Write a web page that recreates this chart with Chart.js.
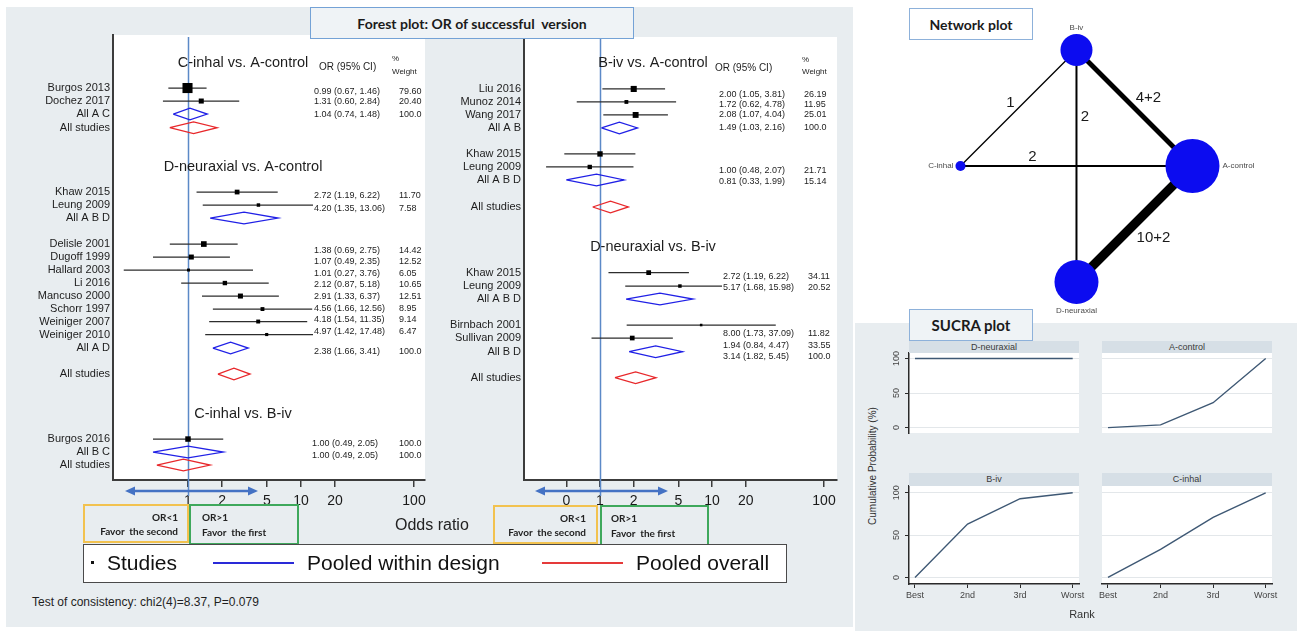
<!DOCTYPE html>
<html>
<head>
<meta charset="utf-8">
<title>Network meta-analysis: forest plot, network plot and SUCRA plot</title>
<script src="https://cdn.jsdelivr.net/npm/chart.js"></script>
<style>
  html, body { margin: 0; padding: 0; }
  body { width: 1297px; height: 631px; position: relative; overflow: hidden; background: #fff;
         font-family: "Liberation Sans", Arial, sans-serif; color: #1a1a1a; }
  .abs { position: absolute; }
  canvas { position: absolute; }
  .bg { position: absolute; background: #e8edf0; }
  .titlebox { position: absolute; box-sizing: border-box; border: 1.5px solid #74a2d6; background: #eff3f6;
              font-family: Lato, "Open Sans", sans-serif; font-weight: 700; font-size: 14px; color: #1b1b1b;
              display: flex; align-items: center; justify-content: center; white-space: pre; }
  .favor { position: absolute; box-sizing: border-box; border: 2px solid; font-family: Lato, sans-serif;
           font-weight: 700; font-size: 10px; line-height: 12px; color: #222; white-space: pre; }
  .favor span { position: absolute; }
  .leg { position: absolute; top: 552px; font-size: 21px; line-height: 22px; color: #111; white-space: pre; }
  .strip { position: absolute; height: 12px; background: #d6dfe6; font-size: 9px; line-height: 12px;
           text-align: center; color: #3a3a3a; }
</style>
</head>
<body>
<div class="bg" style="left:6px;top:7px;width:847px;height:620px;"></div>
<div class="bg" style="left:855px;top:323px;width:442px;height:308px;"></div>

<canvas id="forestLeft" width="440" height="520" style="left:0;top:0;"></canvas>
<canvas id="forestRight" width="420" height="520" style="left:430px;top:0;"></canvas>
<canvas id="network" width="440" height="323" style="left:857px;top:0;"></canvas>
<canvas id="sucra1" width="215" height="116" style="left:880px;top:345px;"></canvas>
<canvas id="sucra2" width="200" height="116" style="left:1090px;top:345px;"></canvas>
<canvas id="sucra3" width="215" height="126" style="left:880px;top:478px;"></canvas>
<canvas id="sucra4" width="200" height="126" style="left:1090px;top:478px;"></canvas>

<div class="titlebox" style="left:310px;top:7px;width:324px;height:32px;">Forest plot: OR of successful  version</div>
<div class="titlebox" style="left:909px;top:8px;width:124px;height:32px;background:#fff;border-color:#8db1da;">Network plot</div>
<div class="titlebox" style="left:909px;top:309px;width:124px;height:32px;font-size:15px;border-color:#8db1da;">SUCRA plot</div>

<div class="favor" style="left:83px;top:504px;width:106px;height:39px;border-color:#f2c24f;">
  <span style="right:9px;top:5px;">OR&lt;1</span><span style="right:9px;top:19px;">Favor  the second</span></div>
<div class="favor" style="left:189px;top:504px;width:110px;height:41px;border-color:#3ea85c;">
  <span style="left:11px;top:5px;">OR&gt;1</span><span style="left:11px;top:20px;">Favor  the first</span></div>
<div class="favor" style="left:493px;top:505px;width:105px;height:39px;border-color:#f2c24f;">
  <span style="right:10px;top:5px;">OR&lt;1</span><span style="right:10px;top:19px;">Favor  the second</span></div>
<div class="favor" style="left:600px;top:505px;width:109px;height:41px;border-color:#3ea85c;">
  <span style="left:9px;top:5px;">OR&gt;1</span><span style="left:9px;top:20px;">Favor  the first</span></div>

<div class="abs" style="left:395px;top:516px;font-size:16px;line-height:18px;color:#222;">Odds ratio</div>

<div class="abs" style="left:83px;top:544px;width:704px;height:39px;box-sizing:border-box;border:1.5px solid #4a4a4a;background:#fff;"></div>
<div class="abs" style="left:91px;top:561px;width:3px;height:3px;background:#111;"></div>
<div class="leg" style="left:107px;">Studies</div>
<div class="abs" style="left:213px;top:562px;width:81px;height:2px;background:#2a2ad8;"></div>
<div class="leg" style="left:307px;">Pooled within design</div>
<div class="abs" style="left:542px;top:562px;width:81px;height:2px;background:#e53a3a;"></div>
<div class="leg" style="left:636px;">Pooled overall</div>

<div class="abs" style="left:32px;top:595px;font-size:12px;line-height:14px;color:#1f1f1f;">Test of consistency: chi2(4)=8.37, P=0.079</div>

<div id="strips"></div>
<div class="abs" style="left:793px;top:460px;width:160px;height:12px;font-size:10px;line-height:12px;text-align:center;color:#333;transform:rotate(-90deg);">Cumulative Probability (%)</div>
<div class="abs" style="left:1057px;top:607px;width:50px;font-size:11px;line-height:14px;text-align:center;color:#333;">Rank</div>

<script>
// ================= Forest plot: left column =================
const leftComparisons = ['C-inhal vs. A-control', 'D-neuraxial vs. A-control', 'C-inhal vs. B-iv'];

const leftStudies = ['Burgos 2013', 'Dochez 2017', 'Khaw 2015', 'Leung 2009', 'Delisle 2001', 'Dugoff 1999',
                     'Hallard 2003', 'Li 2016', 'Mancuso 2000', 'Schorr 1997', 'Weiniger 2007', 'Weiniger 2010', 'Burgos 2016'];
const leftOR     = [0.99, 1.31, 2.72, 4.20, 1.38, 1.07, 1.01, 2.12, 2.91, 4.56, 4.18, 4.97, 1.00];
const leftLow    = [0.67, 0.60, 1.19, 1.35, 0.69, 0.49, 0.27, 0.87, 1.33, 1.66, 1.54, 1.42, 0.49];
const leftHigh   = [1.46, 2.84, 6.22, 13.06, 2.75, 2.35, 3.76, 5.18, 6.37, 12.56, 11.35, 17.48, 2.05];
const leftWeight = [79.60, 20.40, 11.70, 7.58, 14.42, 12.52, 6.05, 10.65, 12.51, 8.95, 9.14, 6.47, 100.0];

// pooled within design (blue diamonds); null weight = estimate not printed
const leftDesigns      = ['All A C', 'All A B D', 'All A D', 'All B C'];
const leftDesignOR     = [1.04, 3.13, 2.38, 1.00];
const leftDesignLow    = [0.74, 1.57, 1.66, 0.49];
const leftDesignHigh   = [1.48, 6.27, 3.41, 2.05];
const leftDesignWeight = [100.0, null, 100.0, 100.0];

// pooled overall (red diamonds), one per comparison
const leftOverallOR   = [1.12, 2.55, 0.91];
const leftOverallLow  = [0.69, 1.84, 0.53];
const leftOverallHigh = [1.81, 3.54, 1.57];

const leftTickValues = [1, 2, 5, 10, 20, 100];
const leftTickLabels = ['1', '2', '5', '10', '20', '100'];

// ================= Forest plot: right column =================
const rightComparisons = ['B-iv vs. A-control', 'D-neuraxial vs. B-iv'];

const rightStudies = ['Liu 2016', 'Munoz 2014', 'Wang 2017', 'Khaw 2015', 'Leung 2009',
                      'Khaw 2015', 'Leung 2009', 'Birnbach 2001', 'Sullivan 2009'];
const rightOR     = [2.00, 1.72, 2.08, 1.00, 0.81, 2.72, 5.17, 8.00, 1.94];
const rightLow    = [1.05, 0.62, 1.07, 0.48, 0.33, 1.19, 1.68, 1.73, 0.84];
const rightHigh   = [3.81, 4.78, 4.04, 2.07, 1.99, 6.22, 15.98, 37.09, 4.47];
const rightWeight = [26.19, 11.95, 25.01, 21.71, 15.14, 34.11, 20.52, 11.82, 33.55];

const rightDesigns      = ['All A B', 'All A B D', 'All A B D', 'All B D'];
const rightDesignOR     = [1.49, 0.93, 3.43, 3.14];
const rightDesignLow    = [1.03, 0.50, 1.71, 1.82];
const rightDesignHigh   = [2.16, 1.64, 6.76, 5.45];
const rightDesignWeight = [100.0, null, null, 100.0];

const rightOverallOR   = [1.24, 2.08];
const rightOverallLow  = [0.86, 1.36];
const rightOverallHigh = [1.79, 3.16];

const rightTickValues = [0.5, 1, 2, 5, 10, 20, 100];
const rightTickLabels = ['0', '1', '2', '5', '10', '20', '100'];

// ================= Network plot =================
const treatments = ['A-control', 'B-iv', 'C-inhal', 'D-neuraxial'];
const nodeWeight = [729, 256, 25, 484];          // relative node size (area)
const edgeFrom    = ['C-inhal', 'B-iv', 'C-inhal', 'B-iv', 'A-control'];
const edgeTo      = ['B-iv', 'D-neuraxial', 'A-control', 'A-control', 'D-neuraxial'];
const edgeStudies = ['1', '2', '2', '4+2', '10+2'];

// ================= SUCRA (cumulative ranking probability, %) =================
const rankLabels = ['Best', '2nd', '3rd', 'Worst'];
const sucraNames = ['D-neuraxial', 'A-control', 'B-iv', 'C-inhal'];
const sucraDneuraxial = [100, 100, 100, 100];
const sucraAcontrol   = [0, 4, 36, 100];
const sucraBiv        = [0, 63, 93, 100];
const sucraCinhal     = [0, 33, 71, 100];

// ---------------------------------------------------------------------------
const FONT = '"Liberation Sans", Arial, Helvetica, sans-serif';
Chart.defaults.font.family = FONT;
Chart.defaults.color = '#222';

// row layout of the forest columns: [kind, index, row line, text line]
const leftLayout = [
  ['head', 0, 2.05],
  ['study', 0, 4, 4.23], ['study', 1, 5, 5.05], ['design', 0, 6, 6.02], ['overall', 0, 7.05],
  ['head', 1, 10.1],
  ['study', 2, 12, 12.23], ['study', 3, 13, 13.25], ['design', 1, 14],
  ['study', 4, 16, 16.46], ['study', 5, 17, 17.36], ['study', 6, 18, 18.23], ['study', 7, 19, 19.15],
  ['study', 8, 20, 20.05], ['study', 9, 21, 20.97], ['study', 10, 21.96, 21.84], ['study', 11, 22.96, 22.74],
  ['design', 2, 24, 24.3], ['overall', 1, 26],
  ['head', 2, 29.05],
  ['study', 12, 31, 31.33], ['design', 3, 32, 32.28], ['overall', 2, 33]
];
const rightLayout = [
  ['head', 0, 2.07],
  ['study', 0, 4.07, 4.46], ['study', 1, 5.07, 5.3], ['study', 2, 6.07, 6.07], ['design', 0, 7.07, 7.07],
  ['study', 3, 9.07, 10.36], ['study', 4, 10.07, 11.2], ['design', 1, 11.07], ['overall', 0, 13.15],
  ['head', 1, 16.23],
  ['study', 5, 18.2, 18.51], ['study', 6, 19.23, 19.38], ['design', 2, 20.23],
  ['study', 7, 22.23, 22.92], ['study', 8, 23.23, 23.82], ['design', 3, 24.28, 24.67], ['overall', 1, 26.28]
];

const leftPanel = {
  comparisons: leftComparisons, studies: leftStudies, or: leftOR, low: leftLow, high: leftHigh, weight: leftWeight,
  designs: leftDesigns, dOR: leftDesignOR, dLow: leftDesignLow, dHigh: leftDesignHigh, dWeight: leftDesignWeight,
  oOR: leftOverallOR, oLow: leftOverallLow, oHigh: leftOverallHigh,
  ticks: leftTickValues, tickText: leftTickLabels, layout: leftLayout,
  view: { min: 0.2169, max: 125.1, yMin: -0.08, yMax: 34.15, pad: { left: 113, right: 15, top: 35, bottom: 5 },
          headX: 243, cols: [{ or: 314, wt: 399 }, { or: 314, wt: 399 }, { or: 312, wt: 399 }],
          hdr: { or: 319, pct: 392 }, arrow: [63, 70], clipRight: false }
};
const rightPanel = {
  comparisons: rightComparisons, studies: rightStudies, or: rightOR, low: rightLow, high: rightHigh, weight: rightWeight,
  designs: rightDesigns, dOR: rightDesignOR, dLow: rightDesignLow, dHigh: rightDesignHigh, dWeight: rightDesignWeight,
  oOR: rightOverallOR, oLow: rightOverallLow, oHigh: rightOverallHigh,
  ticks: rightTickValues, tickText: rightTickLabels, layout: rightLayout,
  view: { min: 0.2096, max: 130.6, yMin: 0.074, yMax: 34.15, pad: { left: 94, right: 13, top: 37, bottom: 5 },
          headX: 223, cols: [{ or: 289, wt: 374 }, { or: 293, wt: 378 }],
          hdr: { or: 285, pct: 372 }, arrow: [65, 68], clipRight: true }
};

const fmt2 = v => v.toFixed(2);
const fmtWeight = w => (w >= 100 ? w.toFixed(1) : w.toFixed(2));

// square side proportional to the inverse standard error of the log odds ratio
function markerSide(lo, hi) {
  const se = (Math.log(hi) - Math.log(lo)) / 3.92;
  return Math.max(2.5, 2 / se);
}

function diamond(or, lo, hi, line, color) {
  const h = 0.45;
  return {
    data: [{ x: lo, y: line }, { x: or, y: line - h }, { x: hi, y: line }, { x: or, y: line + h }, { x: lo, y: line }],
    showLine: true, borderColor: color, borderWidth: 1.3, pointRadius: 0, tension: 0, fill: false, order: 1
  };
}

function buildForest(p) {
  const ci = [], pooled = [], squares = [];
  p.layout.forEach(([kind, i, line]) => {
    if (kind === 'study') {
      ci.push({ data: [{ x: p.low[i], y: line }, { x: p.high[i], y: line }], showLine: true,
                borderColor: '#2d2d2d', borderWidth: 1.3, pointRadius: 0, order: 2 });
      squares.push({ x: p.or[i], y: line, side: markerSide(p.low[i], p.high[i]) });
    } else if (kind === 'design') {
      pooled.push(diamond(p.dOR[i], p.dLow[i], p.dHigh[i], line, '#2020e6'));
    } else if (kind === 'overall') {
      pooled.push(diamond(p.oOR[i], p.oLow[i], p.oHigh[i], line, '#e8282b'));
    }
  });
  const marks = {
    data: squares, pointStyle: 'rect', backgroundColor: '#000', borderWidth: 0, pointBorderWidth: 0,
    pointRadius: c => (c.raw ? c.raw.side / Math.SQRT2 : 0), order: 0
  };
  return [marks, ...ci, ...pooled];
}

function forestPlugin(p) {
  const v = p.view;
  return {
    id: 'forestDecor',
    beforeDraw(chart) {
      const { ctx, chartArea: a } = chart;
      ctx.save();
      ctx.fillStyle = '#fff';
      ctx.fillRect(a.left, a.top, a.right - a.left, a.bottom - a.top);
      ctx.restore();
    },
    beforeDatasetsDraw(chart) {
      // reference line at OR = 1
      const { ctx, chartArea: a, scales: { x } } = chart;
      const px = Math.round(x.getPixelForValue(1)) + 0.5;
      ctx.save();
      ctx.strokeStyle = '#5b89c7';
      ctx.lineWidth = 1.5;
      ctx.beginPath();
      ctx.moveTo(px, a.top + 2);
      ctx.lineTo(px, a.bottom + 16);
      ctx.stroke();
      ctx.restore();
    },
    afterDatasetsDraw(chart) {
      const { ctx, chartArea: a, scales: { y } } = chart;
      ctx.save();
      if (v.clipRight) {
        ctx.beginPath();
        ctx.rect(0, 0, a.right - 5, chart.height);
        ctx.clip();
      }
      ctx.textBaseline = 'middle';
      let sec = 0;
      p.layout.forEach(([kind, i, line, tline]) => {
        const py = y.getPixelForValue(line);
        ctx.fillStyle = '#1d1d1d';
        if (kind === 'head') {
          sec = i;
          ctx.font = `14.5px ${FONT}`;
          ctx.textAlign = 'center';
          ctx.fillText(p.comparisons[i], v.headX, py);
          if (i === 0) {
            ctx.textAlign = 'left';
            ctx.font = `10px ${FONT}`;
            ctx.fillText('OR (95% CI)', v.hdr.or, py + 5);
            ctx.font = `8px ${FONT}`;
            ctx.fillText('%', v.hdr.pct, py - 3.5);
            ctx.fillText('Weight', v.hdr.pct, py + 9);
          }
          return;
        }
        const label = kind === 'study' ? p.studies[i] : kind === 'design' ? p.designs[i] : 'All studies';
        ctx.font = `11px ${FONT}`;
        ctx.textAlign = 'right';
        ctx.fillText(label, a.left - 3, py);

        let est = null;
        if (kind === 'study') est = [p.or[i], p.low[i], p.high[i], p.weight[i]];
        else if (kind === 'design' && p.dWeight[i] != null) est = [p.dOR[i], p.dLow[i], p.dHigh[i], p.dWeight[i]];
        if (est && tline != null) {
          const ty = y.getPixelForValue(tline);
          const c = v.cols[sec];
          const s = `${fmt2(est[0])} (${fmt2(est[1])}, ${fmt2(est[2])})`;
          ctx.font = `9px ${FONT}`;
          ctx.textAlign = 'left';
          const w = ctx.measureText(s).width;
          ctx.fillStyle = '#fff';
          ctx.fillRect(c.or - 1, ty - 6, w + 2, 12);
          ctx.fillStyle = '#1d1d1d';
          ctx.fillText(s, c.or, ty);
          ctx.fillText(fmtWeight(est[3]), c.wt, ty);
        }
      });
      ctx.restore();
    },
    afterDraw(chart) {
      // double-headed arrow below the axis
      const { ctx, chartArea: a, scales: { x } } = chart;
      const p1 = x.getPixelForValue(1), ya = a.bottom + 11;
      const x0 = p1 - v.arrow[0], x1 = p1 + v.arrow[1];
      ctx.save();
      ctx.strokeStyle = ctx.fillStyle = '#4472c4';
      ctx.lineWidth = 2.5;
      ctx.beginPath();
      ctx.moveTo(x0 + 6, ya);
      ctx.lineTo(x1 - 6, ya);
      ctx.stroke();
      [[x0, 1], [x1, -1]].forEach(([xe, d]) => {
        ctx.beginPath();
        ctx.moveTo(xe, ya);
        ctx.lineTo(xe + d * 10, ya - 4.5);
        ctx.lineTo(xe + d * 10, ya + 4.5);
        ctx.closePath();
        ctx.fill();
      });
      ctx.restore();
    }
  };
}

function forestChart(id, p) {
  const v = p.view;
  return new Chart(document.getElementById(id), {
    type: 'scatter',
    data: { datasets: buildForest(p) },
    options: {
      responsive: false, animation: false, events: [],
      layout: { padding: v.pad, autoPadding: false },
      plugins: { legend: { display: false }, tooltip: { enabled: false } },
      scales: {
        x: {
          type: 'logarithmic', position: 'bottom', min: v.min, max: v.max, bounds: 'data',
          afterBuildTicks: s => { s.ticks = p.ticks.map(t => ({ value: t })); },
          afterFit: s => { s.height = 35; },
          ticks: { autoSkip: false, maxRotation: 0, minRotation: 0, padding: 7, color: '#1a1a1a',
                   font: { size: 14, lineHeight: 1 }, callback: (val, idx) => p.tickText[idx] },
          grid: { drawOnChartArea: false, drawTicks: true, tickLength: 7, color: '#3c3c3c', lineWidth: 1.5 },
          border: { display: true, color: '#3c3c3c', width: 2 }
        },
        y: {
          type: 'linear', reverse: true, min: v.yMin, max: v.yMax, bounds: 'data',
          afterFit: s => { s.width = 0; },
          ticks: { display: false },
          grid: { display: false, drawTicks: false },
          border: { display: true, color: '#3c3c3c', width: 2 }
        }
      }
    },
    plugins: [forestPlugin(p)]
  });
}

forestChart('forestLeft', leftPanel);
forestChart('forestRight', rightPanel);

// ---------------- network plot ----------------
(function () {
  const pos = treatments.map((t, i) => ({ x: Math.cos(i * Math.PI / 2), y: Math.sin(i * Math.PI / 2) }));
  const idx = name => treatments.indexOf(name);
  const studyCount = s => s.split('+').reduce((acc, n) => acc + Number(n), 0);
  const edgeLabelOffset = [[-8, -5], [8.5, -49], [-44, -9], [14, -10], [19, 14]];

  const edges = edgeFrom.map((f, k) => ({
    type: 'line', data: [pos[idx(f)], pos[idx(edgeTo[k])]], borderColor: '#000',
    borderWidth: 0.7 * studyCount(edgeStudies[k]) + 0.6, pointRadius: 0, order: 2
  }));
  const nodes = {
    type: 'bubble', data: pos.map((p, i) => ({ x: p.x, y: p.y, r: Math.sqrt(nodeWeight[i]) })),
    backgroundColor: '#0c0cf0', borderWidth: 0, order: 0
  };

  const labels = {
    id: 'networkLabels',
    afterDatasetsDraw(chart) {
      const { ctx, scales: { x, y } } = chart;
      ctx.save();
      ctx.font = `8px ${FONT}`;
      ctx.fillStyle = '#4a4a4a';
      pos.forEach((p, i) => {
        const px = x.getPixelForValue(p.x), py = y.getPixelForValue(p.y), r = Math.sqrt(nodeWeight[i]);
        const c = Math.round(p.x), s = Math.round(p.y);
        if (c === 1) { ctx.textAlign = 'left'; ctx.textBaseline = 'middle'; ctx.fillText(treatments[i], px + r + 3, py); }
        else if (c === -1) { ctx.textAlign = 'right'; ctx.textBaseline = 'middle'; ctx.fillText(treatments[i], px - r - 2, py); }
        else if (s === 1) { ctx.textAlign = 'center'; ctx.textBaseline = 'bottom'; ctx.fillText(treatments[i], px, py - r - 2); }
        else { ctx.textAlign = 'center'; ctx.textBaseline = 'top'; ctx.fillText(treatments[i], px, py + r + 3); }
      });
      ctx.font = `15px ${FONT}`;
      ctx.fillStyle = '#1a1a1a';
      ctx.textAlign = 'center';
      ctx.textBaseline = 'middle';
      edgeFrom.forEach((f, k) => {
        const a = pos[idx(f)], b = pos[idx(edgeTo[k])];
        const mx = (x.getPixelForValue(a.x) + x.getPixelForValue(b.x)) / 2;
        const my = (y.getPixelForValue(a.y) + y.getPixelForValue(b.y)) / 2;
        ctx.fillText(edgeStudies[k], mx + edgeLabelOffset[k][0], my + edgeLabelOffset[k][1]);
      });
      ctx.restore();
    }
  };

  new Chart(document.getElementById('network'), {
    type: 'scatter',
    data: { datasets: [nodes, ...edges] },
    options: {
      responsive: false, animation: false, events: [],
      layout: { padding: 0, autoPadding: false },
      plugins: { legend: { display: false }, tooltip: { enabled: false } },
      scales: {
        x: { type: 'linear', display: false, min: -1.892, max: 1.901 },
        y: { type: 'linear', display: false, min: -1.353, max: 1.431 }
      }
    },
    plugins: [labels]
  });
})();

// ---------------- SUCRA plots ----------------
const whiteArea = {
  id: 'whiteArea',
  beforeDraw(chart) {
    const { ctx, chartArea: a } = chart;
    ctx.save();
    ctx.fillStyle = '#fff';
    ctx.fillRect(a.left, a.top, a.right - a.left, a.bottom - a.top);
    ctx.restore();
  }
};

function sucraChart(id, values, showY, showX, pad) {
  return new Chart(document.getElementById(id), {
    type: 'line',
    data: { datasets: [{ data: values.map((v, i) => ({ x: i + 1, y: v })), borderColor: '#3e5874',
                         borderWidth: 1.4, pointRadius: 0, tension: 0 }] },
    options: {
      responsive: false, animation: false, events: [],
      layout: { padding: pad, autoPadding: false },
      plugins: { legend: { display: false }, tooltip: { enabled: false } },
      scales: {
        x: {
          type: 'linear', min: 0.886, max: 4.12, bounds: 'data', display: showX,
          afterBuildTicks: s => { s.ticks = rankLabels.map((_, i) => ({ value: i + 1 })); },
          afterFit: s => { s.height = 20; },
          ticks: { autoSkip: false, maxRotation: 0, minRotation: 0, padding: 2, color: '#444',
                   font: { size: 9 }, callback: (val, i) => rankLabels[i] },
          grid: { drawOnChartArea: false, drawTicks: true, tickLength: 4, color: '#2a2a2a' },
          border: { display: true, color: '#2a2a2a', width: 1.5 }
        },
        y: {
          type: 'linear', min: -7.8, max: 108, bounds: 'data', display: true,
          afterBuildTicks: s => { s.ticks = [0, 50, 100].map(v => ({ value: v })); },
          afterFit: s => { s.width = showY ? 29 : 0; },
          ticks: { display: showY, minRotation: 90, maxRotation: 90, crossAlign: 'center', padding: 1,
                   color: '#444', font: { size: 9 } },
          grid: { color: '#e3e7ea', drawTicks: showY, tickLength: 4, tickColor: '#2a2a2a' },
          border: { display: showY, color: '#2a2a2a', width: 1.5 }
        }
      }
    },
    plugins: [whiteArea]
  });
}

sucraChart('sucra1', sucraDneuraxial, true, false, { left: 0, right: 16, top: 8, bottom: 8 });
sucraChart('sucra2', sucraAcontrol, false, false, { left: 12, right: 18, top: 8, bottom: 8 });
sucraChart('sucra3', sucraBiv, true, true, { left: 0, right: 16, top: 8, bottom: 0 });
sucraChart('sucra4', sucraCinhal, false, true, { left: 12, right: 18, top: 8, bottom: 0 });

// facet header strips
const stripBox = [[909, 341], [1102, 341], [909, 473], [1102, 473]];
const stripHolder = document.getElementById('strips');
sucraNames.forEach((name, i) => {
  const d = document.createElement('div');
  d.className = 'strip';
  d.style.left = stripBox[i][0] + 'px';
  d.style.top = stripBox[i][1] + 'px';
  d.style.width = '170px';
  d.style.height = (i < 2 ? 12 : 13) + 'px';
  d.textContent = name;
  stripHolder.appendChild(d);
});
</script>
</body>
</html>
